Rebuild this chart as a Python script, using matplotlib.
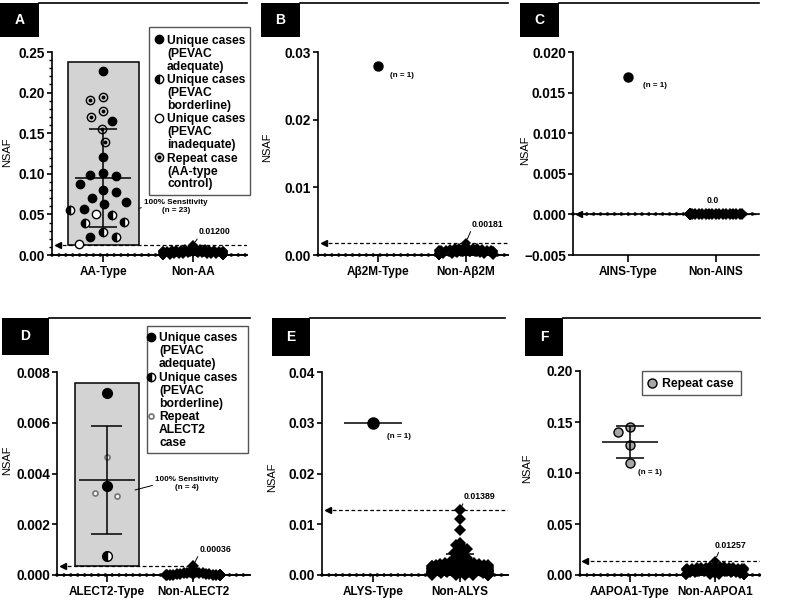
import numpy as np
import matplotlib
matplotlib.use("Agg")
import matplotlib.pyplot as plt
from matplotlib.patches import Rectangle
from matplotlib.lines import Line2D
from matplotlib.ticker import MultipleLocator, FuncFormatter
from matplotlib.transforms import blended_transform_factory

plt.rcParams["font.family"] = ["Liberation Sans", "DejaVu Sans"]
plt.rcParams["font.weight"] = "bold"

W, H, DPI = 785, 602, 100

# ---------------- data (NSAF values) ----------------
# A: AA amyloid
aa_cats = ["AA-Type", "Non-AA"]
aa_type = [0.080, 0.057, 0.028, 0.013,
           0.195, 0.177, 0.165, 0.101, 0.077, 0.065, 0.049, 0.040,
           0.227, 0.139, 0.121,
           0.191, 0.170, 0.155, 0.097, 0.070, 0.055, 0.041, 0.022,
           0.099, 0.087, 0.063, 0.050, 0.022]
aa_kind = ["adequate", "adequate", "borderline", "inadequate",
           "repeat", "repeat", "adequate", "adequate", "adequate", "adequate", "borderline", "borderline",
           "adequate", "repeat", "adequate",
           "repeat", "repeat", "repeat", "adequate", "adequate", "borderline", "borderline", "adequate",
           "adequate", "adequate", "adequate", "inadequate", "borderline"]
non_aa = [0.0120, 0.0079, 0.0071, 0.0066, 0.0074, 0.0052, 0.0061, 0.0043, 0.0058, 0.0035,
          0.0049, 0.0027, 0.0064, 0.0031, 0.0044, 0.0019, 0.0055, 0.0012, 0.0038, 0.0023,
          0.0009, 0.0047, 0.0016, 0.0004, 0.0029, 0.0007, 0.0000, 0.0013, 0.0002, 0.0000,
          0.0021, 0.0006, 0.0000, 0.0011, 0.0003, 0.0000, 0.0008, 0.0001, 0.0000, 0.0005,
          0.0000, 0.0000, 0.0033, 0.0057, 0.0068, 0.0072, 0.0050, 0.0026, 0.0000, 0.0015]
aa_box_top = 0.238
aa_label = "0.01200"

# B: Abeta2M amyloid
b2m_cats = ["A\u03b22M-Type", "Non-A\u03b22M"]
b2m_type = [0.0279]
non_b2m = [0.00181, 0.0012, 0.0010, 0.0011, 0.0008, 0.0009, 0.0006, 0.0010, 0.0004, 0.0007,
           0.0003, 0.0008, 0.0005, 0.0002, 0.0006, 0.0001, 0.0004, 0.0000, 0.0003, 0.0009,
           0.0000, 0.0002, 0.0005, 0.0000, 0.0001, 0.0007, 0.0000, 0.0003, 0.0000, 0.0004,
           0.0000, 0.0002, 0.0000, 0.0006, 0.0001, 0.0000, 0.0011, 0.0008, 0.0010, 0.0005]
b2m_label = "0.00181"

# C: AINS amyloid
ins_cats = ["AINS-Type", "Non-AINS"]
ins_type = [0.0169]
non_ins = [0.0] * 40
ins_label = "0.0"

# D: ALECT2 amyloid
lect_cats = ["ALECT2-Type", "Non-ALECT2"]
lect_type = [0.00718, 0.00351, 0.00076, 0.00466, 0.00324, 0.00311]
lect_kind = ["adequate", "adequate", "borderline", "repeat_small", "repeat_small", "repeat_small"]
non_lect = [0.00036, 0.00019, 0.00011, 0.00008, 0.00006, 0.00009, 0.00004, 0.00003, 0.00007,
            0.00002, 0.00005, 0.00001, 0.00012, 0.00003, 0.00001] + [0.0] * 25
lect_box_top = 0.00757
lect_label = "0.00036"

# E: ALYS amyloid
lys_cats = ["ALYS-Type", "Non-ALYS"]
lys_type = [0.0300]
non_lys = [0.0128, 0.0110, 0.0089, 0.0064, 0.0059, 0.0055, 0.0051, 0.0047, 0.0044, 0.0040,
           0.0037, 0.0034, 0.0031, 0.0029, 0.0026, 0.0024, 0.0025, 0.0022, 0.0021, 0.0023,
           0.0019, 0.0020, 0.0018, 0.0017, 0.0016, 0.0018, 0.0015, 0.0014, 0.0016, 0.0013,
           0.0012, 0.0014, 0.0011, 0.0012, 0.0010, 0.0011, 0.0009, 0.0010, 0.0008, 0.0009,
           0.0007, 0.0008, 0.0006, 0.0007, 0.0005, 0.0006, 0.0004, 0.0005, 0.0003, 0.0004,
           0.0002, 0.0003, 0.0001, 0.0002, 0.0000, 0.0001, 0.0000, 0.0000, 0.0000, 0.0000,
           0.0013, 0.0008, 0.0004, 0.0000, 0.0002, 0.0006, 0.0000, 0.0001, 0.0003, 0.0000,
           0.0021, 0.0017, 0.0011, 0.0007, 0.0024, 0.0019, 0.0009, 0.0005, 0.0015, 0.0002]
lys_label = "0.01389"

# F: AAPOA1 amyloid
apo_cats = ["AAPOA1-Type", "Non-AAPOA1"]
apo_type = [0.1405, 0.1448, 0.1275, 0.1100]
non_apo = [0.0140, 0.0085, 0.0079, 0.0090, 0.0072, 0.0066, 0.0081, 0.0059, 0.0075, 0.0052,
           0.0068, 0.0045, 0.0088, 0.0038, 0.0061, 0.0031, 0.0056, 0.0024, 0.0049, 0.0018,
           0.0042, 0.0012, 0.0035, 0.0007, 0.0027, 0.0003, 0.0021, 0.0000, 0.0015, 0.0000,
           0.0010, 0.0005, 0.0000, 0.0083, 0.0070, 0.0063, 0.0000, 0.0002, 0.0000, 0.0077,
           0.0000, 0.0086, 0.0064, 0.0047, 0.0011]
apo_label = "0.01257"

# ---------------- styles ----------------
STY = {
    "adequate": [dict(marker="o", mfc="black", mec="black")],
    "borderline": [dict(marker="o", fillstyle="left", mfc="black", mfcalt="white", mec="black")],
    "inadequate": [dict(marker="o", mfc="white", mec="black")],
    "repeat": [dict(marker="o", mfc="#d2d2d2", mec="black"), dict(marker="o", ms=1.8, mfc="black", mec="black")],
    "repeat_small": [dict(marker="o", mfc="white", mec="#7a7a7a", mew=1.3, ms=3.6)],
    "repeat_gray": [dict(marker="o", mfc="#a6a6a6", mec="black")],
}

fig = plt.figure(figsize=(W / DPI, H / DPI), dpi=DPI)


def add_ax(l, r, t, b):
    ax = fig.add_axes([l / W, 1 - b / H, (r - l) / W, (b - t) / H])
    ax._px = (l, r, t, b)
    return ax


def setup(ax, cats, xlim, ylim, nticks, fmt, lab_px, minor=None):
    l, r, t, b = ax._px
    ax.set_xlim(*xlim)
    ax.set_ylim(*ylim)
    ax.set_yticks(np.round(np.linspace(ylim[0], ylim[1], nticks), 6))
    ax.yaxis.set_major_formatter(FuncFormatter(lambda v, p: (fmt % v).replace("-", "\u2212")))
    if minor:
        ax.yaxis.set_minor_locator(MultipleLocator(minor))
        ax.tick_params(axis="y", which="minor", length=2.3, width=1)
    ax.set_xticks([0, 1])
    ax.set_xticklabels(cats, fontsize=8.5)
    ax.tick_params(axis="y", labelsize=9.8, length=3.6, width=1.2, pad=1.5)
    ax.tick_params(axis="x", length=5, width=1.2, pad=3)
    for s in ("top", "right"):
        ax.spines[s].set_visible(False)
    for s in ("left", "bottom"):
        ax.spines[s].set_linewidth(1.2)
    ax.set_ylabel("NSAF", fontsize=8)
    ax.yaxis.set_label_coords((lab_px[0] - l) / (r - l), (b - lab_px[1]) / (b - t))
    ax.patch.set_alpha(0)


def zero_axis(ax):
    ax.axhline(0, color="black", lw=1.2, clip_on=False, zorder=2)
    ax.axhline(0, color="black", lw=2.6, ls=(0, (0.01, 1.9)), dash_capstyle="round",
               clip_on=False, zorder=2)


def threshold(ax, thr, xmax=1.0):
    ax.axhline(thr, xmin=0.02, xmax=xmax, color="black", lw=0.9, ls=(0, (3, 2)), zorder=1.5)
    tr = blended_transform_factory(ax.transAxes, ax.transData)
    ax.plot([0.03], [thr], marker="<", ms=4, color="black", transform=tr, clip_on=False)


def swarm(ax, xc, vals, d, half_w=1e9):
    vals = np.asarray(vals, float)
    ypx = ax.transData.transform(np.column_stack([np.full(len(vals), xc), vals]))[:, 1]
    ppu = ax.transData.transform((xc + 1, 0))[0] - ax.transData.transform((xc, 0))[0]
    px, py = [], []
    offs = np.zeros(len(vals))
    for i in np.argsort(-vals, kind="stable"):
        y = ypx[i]
        cands = [0.0]
        for xj, yj in zip(px, py):
            dy = abs(yj - y)
            if dy < d:
                dx = np.sqrt(d * d - dy * dy)
                cands += [xj - dx, xj + dx]
        cands.sort(key=abs)
        best = cands[-1]
        for c in cands:
            if all((c - xj) ** 2 + (y - yj) ** 2 >= d * d - 1e-6 for xj, yj in zip(px, py)):
                best = c
                break
        best = max(-half_w, min(half_w, best))
        offs[i] = best
        px.append(best)
        py.append(y)
    return xc + offs / ppu


def draw_points(ax, xs, vals, kinds, ms):
    for x, v, k in zip(xs, vals, kinds):
        for st in STY[k]:
            st = dict(st)
            st.setdefault("ms", ms)
            st.setdefault("mew", 1.0)
            ax.plot([x], [v], ls="none", zorder=3, clip_on=False, **st)


def blob(ax, vals, ms, half_w, pack=0.45):
    xs = swarm(ax, 1, vals, ms * 1.414 * DPI / 72 * pack, half_w)
    ax.plot(xs, vals, ls="none", marker="D", ms=ms, color="black", mew=0, clip_on=False, zorder=3)
    i = int(np.argmax(vals))
    return xs[i], vals[i]


def mean_sd(ax, xc, vals, half_mean, half_cap, z=5):
    m = np.mean(vals)
    s = np.std(vals, ddof=1) if len(vals) > 1 else 0.0
    ax.hlines(m, xc - half_mean, xc + half_mean, color="black", lw=1.1, zorder=z)
    if s > 0:
        ax.vlines(xc, m - s, m + s, color="black", lw=1.1, zorder=z)
        ax.hlines([m - s, m + s], xc - half_cap, xc + half_cap, color="black", lw=1.1, zorder=z)


def spike_label(ax, xy, text, off, relpos=(0, 0), arrow=True):
    ap = dict(arrowstyle="-", lw=0.7, color="black", shrinkA=0, shrinkB=3, relpos=relpos) if arrow else None
    ax.annotate(text, xy=xy, xytext=off, textcoords="offset pixels", fontsize=6.3,
                ha="left", va="bottom", arrowprops=ap)


def n_label(ax, xy, off):
    ax.annotate("(n = 1)", xy=xy, xytext=off, textcoords="offset pixels", fontsize=5.8,
                ha="left", va="center")


def panel_tag(letter, x0, y0, x1, y1, line_end):
    fig.add_artist(Rectangle((x0 / W, 1 - y1 / H), (x1 - x0) / W, (y1 - y0) / H,
                             transform=fig.transFigure, facecolor="black", edgecolor="none"))
    fig.text((x0 + x1) / 2 / W, 1 - (y0 + y1) / 2 / H, letter, color="white",
             ha="center", va="center", fontsize=10)
    fig.add_artist(Line2D([x1 / W, line_end / W], [1 - y0 / H] * 2, color="black", lw=1.2))


def key(entries, box, mx, tx, y_first, step, fs=8.7, ms=6):
    x0, y0, x1, y1 = box
    fig.add_artist(Rectangle((x0 / W, 1 - y1 / H), (x1 - x0) / W, (y1 - y0) / H,
                             transform=fig.transFigure, facecolor="white", edgecolor="#555555", lw=1))
    em = fs * DPI / 72
    for i, (kind, label) in enumerate(entries):
        yc = y_first + i * step
        for st in STY[kind]:
            st = dict(st)
            st.setdefault("ms", ms)
            st.setdefault("mew", 1.0)
            fig.add_artist(Line2D([mx / W], [1 - yc / H], ls="none", **st))
        fig.text(tx / W, 1 - (yc - 0.38 * em) / H, label, fontsize=fs, ha="left",
                 va="top", linespacing=1.1)


# ---------------- A ----------------
axA = add_ax(52, 247, 52, 255)
setup(axA, aa_cats, (-0.567, 1.6), (0, 0.25), 6, "%.2f", (12, 152), minor=0.01)
zero_axis(axA)
thrA = max(non_aa)
axA.add_patch(Rectangle((-0.39, thrA), 0.79, aa_box_top - thrA, facecolor="#d3d3d3",
                        edgecolor="black", lw=1.1, zorder=1))
threshold(axA, thrA)
xsA = swarm(axA, 0, aa_type, 13.5)
draw_points(axA, xsA, aa_type, aa_kind, 6)
mean_sd(axA, 0, aa_type, 0.31, 0.16)
sx, sy = blob(axA, non_aa, 5.2, 30)
spike_label(axA, (sx, sy), aa_label, (6, 9))
axA.annotate("100% Sensitivity\n(n = 23)", xy=(0.40, 0.0575), xytext=(0.81, 0.060),
             textcoords="data", fontsize=5.8, ha="center", va="center", multialignment="center",
             arrowprops=dict(arrowstyle="-", lw=0.7, color="black", shrinkA=0, shrinkB=0,
                             relpos=(0.0, 0.45)))
key([("adequate", "Unique cases\n(PEVAC\nadequate)"),
     ("borderline", "Unique cases\n(PEVAC\nborderline)"),
     ("inadequate", "Unique cases\n(PEVAC\ninadequate)"),
     ("repeat", "Repeat case\n(AA-type\ncontrol)")],
    (149, 27, 250, 195), 159, 167, 39.3, 39.3)
panel_tag("A", 0, 3, 39, 37, 247)

# ---------------- B ----------------
axB = add_ax(318, 508, 52, 255)
setup(axB, b2m_cats, (-0.68, 1.48), (0, 0.03), 4, "%.2f", (272, 147))
zero_axis(axB)
threshold(axB, max(non_b2m))
draw_points(axB, swarm(axB, 0, b2m_type, 9), b2m_type, ["adequate"], 6.5)
sx, sy = blob(axB, non_b2m, 5.2, 27)
spike_label(axB, (sx, sy), b2m_label, (6, 14))
n_label(axB, (0, b2m_type[0]), (12, -9))
panel_tag("B", 261, 3, 300, 37, 508)

# ---------------- C ----------------
axC = add_ax(573, 759, 52, 255)
setup(axC, ins_cats, (-0.625, 1.49), (-0.005, 0.02), 6, "%.3f", (530, 150))
zero_axis(axC)
threshold(axC, max(non_ins))
draw_points(axC, swarm(axC, 0, ins_type, 9), ins_type, ["adequate"], 6.5)
sx, sy = blob(axC, non_ins, 6.2, 26, pack=0.28)
spike_label(axC, (sx, sy), ins_label, (-9, 9), arrow=False)
n_label(axC, (0, ins_type[0]), (15, -8))
panel_tag("C", 520, 3, 559, 37, 759)

# ---------------- D ----------------
axD = add_ax(57, 250, 372, 575)
setup(axD, lect_cats, (-0.58, 1.66), (0, 0.008), 5, "%.3f", (12, 460))
zero_axis(axD)
thrD = max(non_lect)
axD.add_patch(Rectangle((-0.37, thrD), 0.74, lect_box_top - thrD, facecolor="#d3d3d3",
                        edgecolor="black", lw=1.1, zorder=1))
threshold(axD, thrD, xmax=(1 - (-0.58)) / (1.66 + 0.58))
draw_points(axD, swarm(axD, 0, lect_type, 14), lect_type, lect_kind, 7)
mean_sd(axD, 0, lect_type, 0.33, 0.18)
sx, sy = blob(axD, non_lect, 5.8, 27, pack=0.3)
spike_label(axD, (sx, sy), lect_label, (6, 12))
axD.annotate("100% Sensitivity\n(n = 4)", xy=(0.326, 0.00335), xytext=(0.93, 0.00359),
             textcoords="data", fontsize=5.8, ha="center", va="center", multialignment="center",
             arrowprops=dict(arrowstyle="-", lw=0.7, color="black", shrinkA=0, shrinkB=0,
                             relpos=(0.0, 0.45)))
key([("adequate", "Unique cases\n(PEVAC\nadequate)"),
     ("borderline", "Unique cases\n(PEVAC\nborderline)"),
     ("repeat_small", "Repeat\nALECT2\ncase")],
    (147, 326, 248, 453), 151, 159, 337, 39.5)
panel_tag("D", 2, 318, 49, 355, 250)

# ---------------- E ----------------
axE = add_ax(322, 508, 372, 575)
setup(axE, lys_cats, (-0.586, 1.55), (0, 0.04), 5, "%.2f", (277, 477))
zero_axis(axE)
threshold(axE, max(non_lys))
draw_points(axE, swarm(axE, 0, lys_type, 11), lys_type, ["adequate"], 8)
mean_sd(axE, 0, lys_type, 0.33, 0.16)
mean_sd(axE, 1, non_lys, 0.16, 0.16, z=2.5)
sx, sy = blob(axE, non_lys, 6.0, 28, pack=0.42)
spike_label(axE, (sx, sy), lys_label, (4, 9))
n_label(axE, (0, lys_type[0]), (14, -14))
panel_tag("E", 272, 318, 310, 356, 505)

# ---------------- F ----------------
axF = add_ax(580, 760, 371, 575)
setup(axF, apo_cats, (-0.588, 1.53), (0, 0.20), 5, "%.2f", (532, 468))
zero_axis(axF)
threshold(axF, max(non_apo))
draw_points(axF, swarm(axF, 0, apo_type, 13), apo_type, ["repeat_gray"] * len(apo_type), 6.5)
mean_sd(axF, 0, apo_type, 0.33, 0.17)
sx, sy = blob(axF, non_apo, 5.2, 29)
spike_label(axF, (sx, sy), apo_label, (0, 11), relpos=(0.15, 0))
n_label(axF, (0, min(apo_type)), (8, -10))
key([("repeat_gray", "Repeat case")], (642, 371, 741, 395), 652, 662, 383, 0, fs=8.8, ms=6.5)
panel_tag("F", 525, 318, 563, 356, 760)

fig.savefig("out.png", dpi=DPI, facecolor="white")
